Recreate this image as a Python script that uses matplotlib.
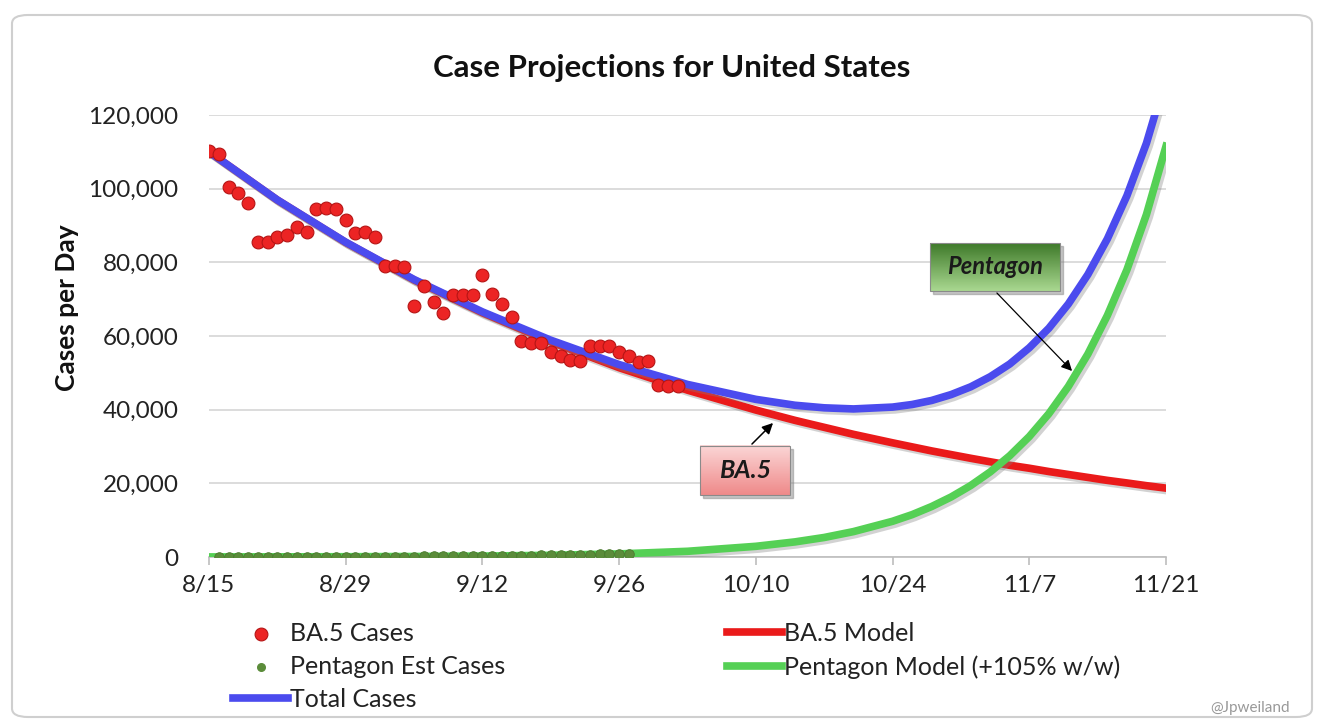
import numpy as np
import matplotlib
matplotlib.use("Agg")
import matplotlib.pyplot as plt
import matplotlib.patheffects as pe
from matplotlib.patches import FancyBboxPatch, Rectangle
from matplotlib.colors import LinearSegmentedColormap
from matplotlib.ticker import FuncFormatter

plt.rcParams['font.family'] = ['Lato', 'DejaVu Sans']

# x axis: days since 8/15
tick_days = [0, 14, 28, 42, 56, 70, 84, 98]
tick_labels = ['8/15', '8/29', '9/12', '9/26', '10/10', '10/24', '11/7', '11/21']

# daily BA.5 cases (8/15 .. 10/2)
ba5_days = list(range(0, 49))
ba5_cases = [110300, 109400, 100500, 98750, 96000, 85600, 85600, 86800, 87400, 89700,
             88300, 94400, 94700, 94400, 91500, 87900, 88300, 87000, 79000, 79000,
             78650, 68150, 73600, 69300, 66150, 71100, 71100, 71100, 76600, 71400,
             68600, 65250, 58650, 58200, 58000, 55750, 54600, 53500, 53300, 57300,
             57300, 57300, 55600, 54600, 53000, 53300, 46700, 46400, 46400]

# estimated Pentagon cases (8/16 .. 9/27)
pent_days = list(range(1, 44))
pent_cases = [24, 26, 28, 31, 34, 37, 40, 44, 48, 52, 57, 62, 68, 74, 81, 88, 96, 105,
              114, 124, 135, 148, 161, 176, 192, 209, 228, 248, 270, 295, 322, 351, 383,
              417, 455, 496, 541, 590, 643, 701, 765, 840, 910]

# model curves
model_days = [0, 7, 14, 21, 28, 35, 42, 49, 56, 60, 63, 66, 70, 72, 74, 76, 78, 80,
              82, 84, 86, 88, 90, 92, 94, 96, 98]
ba5_model = [110000, 96900, 85400, 75200, 66300, 58400, 51400, 45300, 39900, 37100,
             35200, 33300, 31000, 29900, 28800, 27800, 26800, 25850, 24900, 24100,
             23200, 22400, 21600, 20800, 20100, 19360, 18700]
pent_model = [20, 40, 75, 135, 250, 460, 840, 1550, 2900, 4100, 5300, 6900, 9700,
              11500, 13700, 16300, 19400, 23100, 27500, 32700, 38900, 46300, 55100,
              65600, 78000, 93000, 111500]
total_model = [110020, 96940, 85475, 75335, 66550, 58860, 52240, 46850, 42800, 41200,
               40500, 40200, 40700, 41400, 42500, 44100, 46200, 48950, 52400, 56800,
               62100, 68700, 76700, 86400, 98100, 112360, 130200]

W, H = 1325, 720
fig = plt.figure(figsize=(W / 100, H / 100), dpi=100)
ax = fig.add_axes([209 / W, 1 - 557 / H, (1166 - 209) / W, (557 - 115) / H])


def px2data(px, py):
    return (px - 209) / (957 / 98), (557 - py) * 120000 / 442


shadow = [pe.SimpleLineShadow(offset=(2, -2), shadow_color='gray', alpha=0.35), pe.Normal()]

ax.plot(model_days, ba5_model, color='#ea1a1a', lw=5.5, zorder=3, path_effects=shadow)
ax.plot(model_days, pent_model, color='#55d055', lw=5.5, zorder=3, path_effects=shadow)
ax.plot(model_days, total_model, color='#4b4bee', lw=5.5, zorder=4, path_effects=shadow)
ax.scatter(pent_days, pent_cases, s=48, color='#5b8c3a', edgecolor='#4a7a2e', lw=0.6, zorder=5)
ax.scatter(ba5_days, ba5_cases, s=85, color='#ec2424', edgecolor='#b51515', lw=0.8, zorder=6)

ax.set_xlim(0, 98)
ax.set_ylim(0, 120000)
ax.set_xticks(tick_days)
ax.set_xticklabels(tick_labels)
ax.set_yticks(range(0, 120001, 20000))
ax.yaxis.set_major_formatter(FuncFormatter(lambda v, p: f'{int(v):,}'))
ax.grid(axis='y', color='#d6d6d6', lw=1.2)
ax.set_axisbelow(True)
for s in ['top', 'right', 'left']:
    ax.spines[s].set_visible(False)
ax.spines['bottom'].set_color('#bdbdbd')
ax.spines['bottom'].set_linewidth(1.2)
ax.tick_params(axis='x', length=6, color='#bdbdbd', width=1.2, pad=7, labelsize=17.5, labelcolor='#222222')
ax.tick_params(axis='y', length=0, pad=22, labelsize=17.5, labelcolor='#222222')


def grad_box(p0, p1, c_top, c_bot, label, fs):
    x0, y1 = px2data(*p0)
    x1, y0 = px2data(*p1)
    dx, dy = 3 * 98 / 957, 3 * 120000 / 442
    ax.add_patch(Rectangle((x0 + dx, y0 - dy), x1 - x0, y1 - y0, color='gray', alpha=0.45, zorder=7))
    cmap = LinearSegmentedColormap.from_list('g', [c_bot, c_top])
    grad = np.linspace(0, 1, 64).reshape(-1, 1)
    ax.imshow(grad, extent=[x0, x1, y0, y1], origin='lower', aspect='auto', cmap=cmap, zorder=8)
    ax.add_patch(Rectangle((x0, y0), x1 - x0, y1 - y0, fill=False, ec='#8a8a8a', lw=0.8, zorder=9))
    ax.text((x0 + x1) / 2, (y0 + y1) / 2, label, ha='center', va='center', fontsize=fs,
            fontweight='bold', fontstyle='italic', color='#1a1a1a', zorder=10)


grad_box((700, 446), (790, 495), '#fbd6d6', '#ef8a8a', 'BA.5', 18)
grad_box((930, 243), (1060, 291), '#3f7a2a', '#a9d890', 'Pentagon', 17)

ax.annotate('', xy=px2data(775, 421), xytext=px2data(750, 446),
            arrowprops=dict(arrowstyle='-|>', color='black', lw=1.1, mutation_scale=16), zorder=10)
ax.annotate('', xy=px2data(1074, 373), xytext=px2data(995, 291),
            arrowprops=dict(arrowstyle='-|>', color='black', lw=0.9, mutation_scale=16), zorder=10)

fig.text(672 / W, 1 - 68 / H, 'Case Projections for United States', ha='center', va='center',
         fontsize=22.5, fontweight='bold', color='#111111')
fig.text(67 / W, 1 - 308 / H, 'Cases per Day', rotation=90, ha='center', va='center',
         fontsize=19, fontweight='bold', color='#111111')

h1 = ax.scatter([], [], s=85, color='#ec2424', edgecolor='#b51515', lw=0.8)
h2 = ax.scatter([], [], s=30, color='#5b8c3a')
h3, = ax.plot([], [], color='#4b4bee', lw=5.5)
h4, = ax.plot([], [], color='#ea1a1a', lw=5.5)
h5, = ax.plot([], [], color='#55d055', lw=5.5)
fig.legend([h1, h2, h3, h4, h5],
           ['BA.5 Cases', 'Pentagon Est Cases', 'Total Cases', 'BA.5 Model', 'Pentagon Model (+105% w/w)'],
           ncol=2, loc='upper left', bbox_to_anchor=(233 / W, 1 - 622 / H), frameon=False,
           fontsize=18, handlelength=2.2, handletextpad=0.1, columnspacing=8.85,
           labelspacing=0.4, borderpad=0, borderaxespad=0, labelcolor='#222222')

fig.text(1290 / W, 1 - 708 / H, '@Jpweiland', ha='right', va='center', fontsize=11, color='#999999')

frame = FancyBboxPatch((12 / W, 3 / H), 1300 / W, 702 / H, boxstyle='round,pad=0,rounding_size=0.012',
                       transform=fig.transFigure, fill=False, ec='#cfcfcf', lw=1.5)
fig.patches.append(frame)

fig.savefig('out.png', dpi=100)
